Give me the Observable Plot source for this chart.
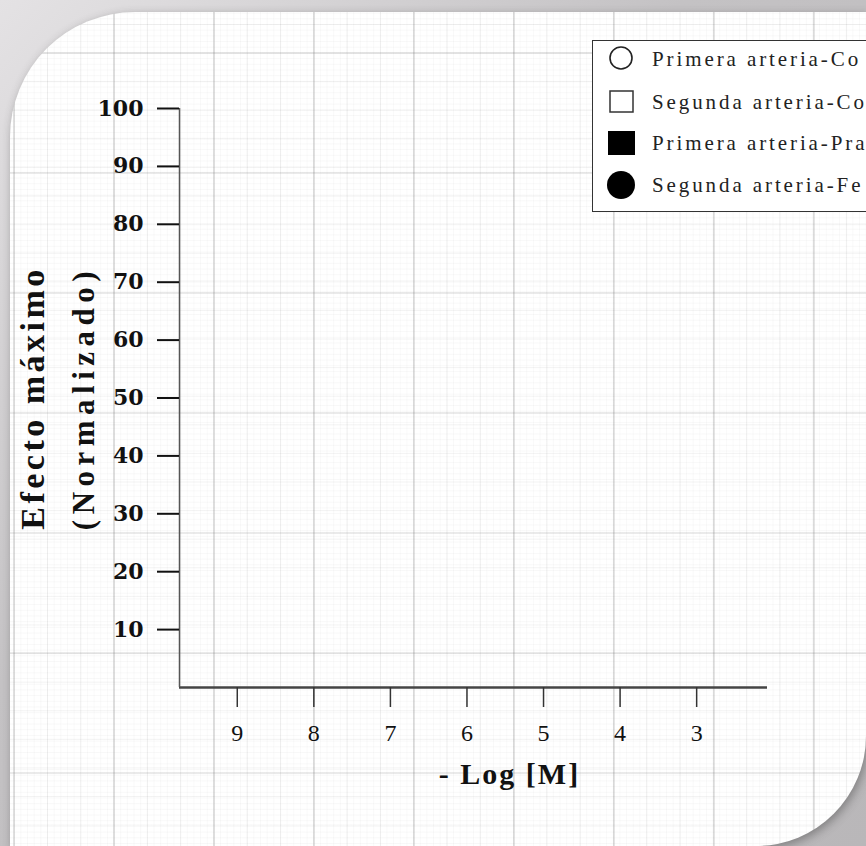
<!DOCTYPE html>
<html>
<head>
<meta charset="utf-8">
<script src="https://cdn.jsdelivr.net/npm/d3@7"></script>
<script src="https://cdn.jsdelivr.net/npm/@observablehq/plot@0.6"></script>
<style>
  html, body { margin: 0; padding: 0; }
  body {
    width: 866px; height: 846px; overflow: hidden; position: relative;
    background: linear-gradient(135deg, #e4e2e4 0%, #c4c2c4 40%, #b9b7b9 100%);
  }
  #panel {
    position: absolute; left: 10px; top: 12px; width: 856px; height: 834px;
    border-radius: 125px 0 110px 0;
    background-color: #ffffff;
    background-image:
      linear-gradient(to right, rgba(110,110,110,0.18) 2px, transparent 2px),
      linear-gradient(to bottom, rgba(110,110,110,0.14) 2px, transparent 2px),
      linear-gradient(to right, rgba(120,120,120,0.09) 1px, transparent 1px),
      linear-gradient(to bottom, rgba(120,120,120,0.09) 1px, transparent 1px),
      linear-gradient(to right, rgba(140,140,140,0.05) 1px, transparent 1px),
      linear-gradient(to bottom, rgba(140,140,140,0.06) 1px, transparent 1px);
    background-size: 100px 100px, 100px 120px, 33.3px 33.3px, 33.3px 28.6px, 6.66px 6.66px, 6.66px 5.7px;
    background-position: 103px 0, 0 40px, 37px 0, 0 12px, 37px 0, 0 12px;
    box-shadow: 2px 3px 10px rgba(60,60,60,0.45);
  }
  #chart { position: absolute; left: 0; top: 0; }
  #legend {
    position: absolute; left: 592px; top: 40px; width: 320px; height: 172px;
    border: 1.5px solid #333; background: #fff; box-sizing: border-box;
    font-family: "Liberation Serif", serif; font-size: 21px; letter-spacing: 2.9px; color: #222;
  }
  .row { position: absolute; left: 0; height: 30px; white-space: nowrap; }
  .row svg { position: absolute; left: 12px; top: 0; }
  .row span { position: absolute; left: 59px; top: 2px; }
</style>
</head>
<body>
<div id="panel"></div>
<div id="chart"></div>
<div id="legend"></div>
<script>
// ---- data ----
const yTicks = [10, 20, 30, 40, 50, 60, 70, 80, 90, 100];
const xTicks = [9, 8, 7, 6, 5, 4, 3];
const xTitle = "- Log [M]";
const yTitleLine1 = "Efecto máximo";
const yTitleLine2 = "(Normalizado)";
// legend labels as far as they are visible in the reference (cut by the page edge)
const legendLabels = ["Primera arteria-Co", "Segunda arteria-Co", "Primera arteria-Pra", "Segunda arteria-Fe"];
const legendSymbols = ["circle-open", "square-open", "square", "circle"];
const xDomain = [9.82, 2.14];
const yDomain = [0, 100];

const plot = Plot.plot({
  width: 866,
  height: 846,
  marginLeft: 179,
  marginRight: 99,
  marginTop: 108,
  marginBottom: 159,
  style: { background: "transparent", fontFamily: "Liberation Serif, serif", color: "#111" },
  x: { domain: xDomain, axis: null },
  y: { domain: yDomain, axis: null },
  marks: [
    Plot.ruleY([0], { stroke: "#444", strokeWidth: 2.5 }),
    Plot.ruleX([xDomain[0]], { stroke: "#555", strokeWidth: 1.5 }),
    Plot.axisY({ ticks: yTicks, tickSize: 22, tickPadding: 14, fontSize: 22, fontWeight: "bold", fontFamily: "DejaVu Serif, serif", stroke: "#111", strokeWidth: 2, label: null, tickFormat: d => d }),
    Plot.axisX({ ticks: xTicks, tickSize: 20, tickPadding: 16, fontSize: 24, stroke: "#333", strokeWidth: 1.5, label: null, tickFormat: d => d, dx: -5 }),
    Plot.text([xTitle], { frameAnchor: "bottom", dx: 36, dy: 87, lineAnchor: "middle", fontSize: 30, fontWeight: "bold", fill: "#111" }),
    Plot.text([yTitleLine1], { frameAnchor: "left", dx: -136, dy: 0, rotate: -90, lineAnchor: "bottom", textAnchor: "middle", fontSize: 34, fontWeight: "bold", fill: "#111" }),
    Plot.text([yTitleLine2], { frameAnchor: "left", dx: -86, dy: 0, rotate: -90, lineAnchor: "bottom", textAnchor: "middle", fontSize: 31, fontWeight: "bold", fill: "#111" })
  ]
});
document.getElementById("chart").appendChild(plot);

// letter spacing tweaks for the stretched serif look
plot.querySelectorAll("text").forEach(t => {
  const s = t.textContent;
  if (s === yTitleLine1) t.setAttribute("letter-spacing", "3.5");
  else if (s === yTitleLine2) t.setAttribute("letter-spacing", "5.5");
  else if (s === xTitle) t.setAttribute("letter-spacing", "2");
});

// legend
const legend = document.getElementById("legend");
const rowTops = [4, 47, 88, 130];
legendLabels.forEach((lab, i) => {
  const row = document.createElement("div");
  row.className = "row";
  row.style.top = rowTops[i] + "px";
  const sym = legendSymbols[i];
  let shape = "";
  if (sym === "circle-open") shape = '<circle cx="16" cy="13" r="11" fill="#fff" stroke="#222" stroke-width="1.6"/>';
  else if (sym === "square-open") shape = '<rect x="5" y="3" width="23" height="21" fill="#fff" stroke="#333" stroke-width="1.5"/>';
  else if (sym === "square") shape = '<rect x="3" y="2" width="27" height="24" fill="#000"/>';
  else shape = '<circle cx="16" cy="14" r="14" fill="#000"/>';
  row.innerHTML = '<svg width="34" height="30">' + shape + '</svg><span>' + lab + '</span>';
  legend.appendChild(row);
});
</script>
</body>
</html>
